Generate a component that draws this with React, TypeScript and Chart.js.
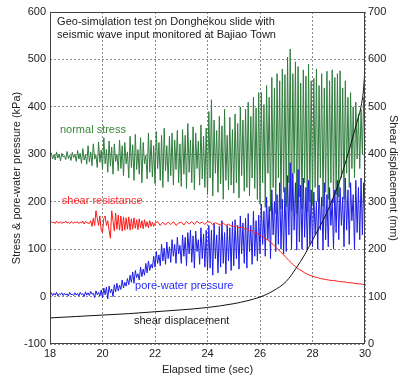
import React, { useEffect, useRef } from "react";
import { Chart, registerables } from "chart.js";

Chart.register(...registerables);

// sampling grid of the dense records (seconds)
const sampleStart = 18;
const sampleStep = 0.05;

// normal stress (kPa), one value per 0.05 s from 18 s to 30 s
const normalStress = [
  296, 303, 290, 299, 288, 305, 292, 300, 286, 302, 294, 297, 289, 306, 291, 298, 287, 304, 293, 299,
  285, 308, 290, 302, 281, 312, 288, 300, 279, 318, 284, 305, 276, 322, 290, 298, 272, 326, 283, 309,
  268, 335, 280, 310, 262, 328, 275, 315, 258, 322, 285, 300, 265, 330, 270, 318, 255, 325, 280, 305,
  250, 338, 272, 320, 245, 342, 268, 310, 258, 335, 240, 325, 280, 298, 248, 345, 262, 330, 252, 318,
  238, 348, 270, 325, 245, 340, 230, 355, 265, 318, 242, 338, 255, 345, 235, 330, 268, 350, 240, 322,
  232, 352, 258, 340, 228, 365, 262, 330, 240, 358, 225, 345, 270, 328, 235, 362, 248, 338, 230, 355,
  215, 390, 250, 415, 212, 372, 260, 350, 220, 380, 238, 360, 205, 395, 245, 340, 225, 378, 235, 352,
  218, 385, 240, 365, 208, 400, 255, 372, 222, 395, 230, 410, 212, 380, 250, 420, 228, 398, 205, 430,
  195, 430, 240, 405, 188, 445, 260, 420, 180, 462, 230, 440, 175, 470, 250, 455, 185, 480, 220, 468,
  190, 505, 240, 522, 180, 470, 260, 495, 175, 485, 210, 450, 185, 478, 240, 465, 178, 490, 200, 455,
  195, 460, 230, 480, 200, 445, 250, 470, 190, 440, 220, 475, 205, 455, 240, 478, 198, 462, 215, 470,
  210, 476, 250, 440, 205, 455, 260, 420, 230, 430, 270, 400, 250, 410, 290, 385, 270, 395, 300, 420,
  330,
];

// pore-water pressure (kPa), same sampling
const poreWaterPressure = [
  5, 8, 2, 7, 3, 9, 1, 6, 4, 8, 2, 7, 3, 6, 1, 9, 4, 5, 2, 8,
  3, 7, 1, 9, 4, 6, 0, 10, 3, 8, 2, 11, 5, 7, -2, 12, 4, 9, 1, 14,
  -3, 18, 4, 20, -5, 22, 8, 16, 0, 25, 10, 28, 12, 24, 15, 35, 18, 30, 22, 38,
  25, 45, 30, 52, 28, 55, 40, 48, 35, 62, 42, 58, 45, 70, 50, 75, 55, 68, 60, 85,
  62, 95, 70, 88, 65, 110, 75, 102, 68, 115, 80, 105, 72, 120, 85, 110, 70, 125, 90, 108,
  70, 130, 85, 125, 65, 135, 90, 140, 72, 128, 60, 138, 95, 120, 68, 145, 80, 132, 62, 140,
  55, 150, 60, 140, 45, 155, 80, 130, 50, 148, 62, 160, 70, 135, 48, 150, 75, 145, 55, 158,
  65, 162, 80, 150, 58, 170, 90, 155, 70, 165, 60, 175, 95, 150, 68, 180, 85, 160, 75, 172,
  90, 195, 110, 180, 85, 210, 120, 190, 80, 225, 130, 200, 95, 215, 110, 240, 100, 205, 90, 230,
  95, 255, 130, 282, 100, 260, 140, 240, 98, 268, 115, 235, 100, 250, 125, 230, 98, 245, 110, 225,
  105, 220, 130, 200, 100, 235, 140, 210, 98, 240, 120, 215, 105, 230, 150, 205, 100, 225, 135, 245,
  120, 230, 150, 210, 105, 250, 140, 225, 110, 240, 160, 215, 100, 245, 135, 230, 120, 250, 130, 240,
  140,
];

// shear resistance (kPa): 0.05 s steps from 18 s to 22 s ...
const shearResistanceFine = [
  156, 158, 155, 157, 154, 159, 156, 155, 158, 154, 157, 156, 159, 155, 157, 154, 158, 156, 155, 157,
  156, 158, 154, 157, 155, 159, 153, 158, 156, 155, 154, 160, 148, 165, 150, 181, 165, 150, 170, 140,
  135, 165, 170, 150, 160, 140, 123, 181, 160, 138, 176, 142, 172, 140, 170, 138, 168, 140, 166, 142,
  168, 140, 164, 142, 166, 144, 162, 141, 164, 145, 160, 143, 162, 147, 158, 145, 160, 148, 157, 148,
  155,
];
// ... then 0.1 s steps from 22.1 s to 30 s
const coarseStart = 22.1;
const coarseStep = 0.1;
const shearResistanceCoarse = [
  158, 150, 157, 151, 157, 152, 158, 150, 155, 157,
  151, 158, 153, 158, 152, 159, 154, 157, 152, 158,
  157, 152, 156, 153, 151, 155, 150, 153, 149, 148,
  149, 145, 147, 143, 143, 139, 139, 134, 133, 129,
  126, 122, 119, 114, 110, 104, 99, 93, 88, 82,
  76, 71, 65, 61, 57, 54, 50, 47, 45, 43,
  41, 40, 38, 37, 36, 35, 34, 34, 33, 32,
  31, 31, 30, 29, 29, 28, 27, 27, 26, 25,
];

// shear displacement (mm, right axis)
const dispTimes = [18, 19, 20, 21, 22, 23, 24, 25, 25.5, 26, 26.5, 27, 27.4, 27.7, 28, 28.3, 28.54, 28.8, 29, 29.17, 29.4, 29.68, 29.87, 29.95, 30];
const shearDisplacement = [55, 58, 61, 64, 68, 72, 77, 85, 91, 99, 112, 132, 162, 188, 219, 250, 276, 310, 338, 367, 410, 465, 507, 540, 585];

const leftTicks = { min: -100, max: 600, step: 100 };
const rightTicks = { min: 0, max: 700, step: 100 };
const timeTicks = { min: 18, max: 30, step: 2 };

const FONT = "'Liberation Sans', Arial, sans-serif";

const labels = [
  { text: "Geo-simulation test on Donghekou slide with", t: 18.27, v: 580, color: "#1a1a1a" },
  { text: "seismic wave input monitored at Bajiao Town", t: 18.27, v: 551, color: "#1a1a1a" },
  { text: "normal stress", t: 18.38, v: 351, color: "#3a8a3a" },
  { text: "shear resistance", t: 18.45, v: 201, color: "#ff2a2a" },
  { text: "pore-water pressure", t: 21.24, v: 23, color: "#2a2aff" },
  { text: "shear displacement", t: 21.2, v: -51, color: "#1a1a1a" },
];

function dense(values: number[], start: number, step: number) {
  return values.map((v, i) => ({ x: +(start + i * step).toFixed(3), y: v }));
}

const textPlugin = {
  id: "textAndBox",
  afterDatasetsDraw(chart: any) {
    const { ctx, chartArea, scales } = chart;
    ctx.save();
    ctx.strokeStyle = "#404040";
    ctx.lineWidth = 1;
    ctx.setLineDash([]);
    ctx.strokeRect(Math.round(chartArea.left) + 0.5, Math.round(chartArea.top) + 0.5, Math.round(chartArea.right - chartArea.left) - 1, Math.round(chartArea.bottom - chartArea.top) - 1);
    ctx.font = `11px ${FONT}`;
    ctx.textAlign = "left";
    ctx.textBaseline = "middle";
    for (const l of labels) {
      ctx.fillStyle = l.color;
      ctx.fillText(l.text, scales.x.getPixelForValue(l.t), scales.y.getPixelForValue(l.v));
    }
    ctx.restore();
  },
};

export default function App() {
  const ref = useRef<HTMLCanvasElement>(null);
  useEffect(() => {
    const canvas = ref.current!;
    const tickFont = { family: FONT, size: 11 };
    const gridOpts = { color: "#8a8a8a", drawTicks: false, borderDash: [2, 2] };
    const chart = new Chart(canvas, {
      type: "line",
      data: {
        datasets: [
          {
            label: "normal stress",
            data: dense(normalStress, sampleStart, sampleStep),
            borderColor: "#2f7d3d",
            borderWidth: 1,
            pointRadius: 0,
            tension: 0,
            yAxisID: "y",
            order: 4,
          },
          {
            label: "pore-water pressure",
            data: dense(poreWaterPressure, sampleStart, sampleStep),
            borderColor: "#1c1ce6",
            borderWidth: 1,
            pointRadius: 0,
            tension: 0,
            yAxisID: "y",
            order: 3,
          },
          {
            label: "shear resistance",
            data: [...dense(shearResistanceFine, sampleStart, sampleStep), ...dense(shearResistanceCoarse, coarseStart, coarseStep)],
            borderColor: "#ff1a1a",
            borderWidth: 1,
            pointRadius: 0,
            tension: 0,
            yAxisID: "y",
            order: 2,
          },
          {
            label: "shear displacement",
            data: dispTimes.map((t, i) => ({ x: t, y: shearDisplacement[i] })),
            borderColor: "#111111",
            borderWidth: 1,
            pointRadius: 0,
            cubicInterpolationMode: "monotone",
            yAxisID: "y2",
            order: 1,
          },
        ],
      },
      options: {
        responsive: false,
        animation: false,
        devicePixelRatio: 1,
        layout: { padding: { top: 12, left: 0, right: 0, bottom: 0 } },
        plugins: { legend: { display: false }, tooltip: { enabled: false } },
        scales: {
          x: {
            type: "linear",
            min: timeTicks.min,
            max: timeTicks.max,
            ticks: { stepSize: timeTicks.step, font: tickFont, color: "#222", padding: 3, maxRotation: 0 },
            grid: gridOpts,
            border: { display: false, dash: [2, 2] },
            title: { display: true, text: "Elapsed time (sec)", font: tickFont, color: "#222", padding: { top: 0, bottom: 3 } },
            afterFit: (s: any) => { s.height = 36; },
          },
          y: {
            type: "linear",
            position: "left",
            min: leftTicks.min,
            max: leftTicks.max,
            ticks: { stepSize: leftTicks.step, font: tickFont, color: "#222", padding: 4 },
            grid: gridOpts,
            border: { display: false, dash: [2, 2] },
            title: { display: true, text: "Stress & pore-water pressure (kPa)", font: tickFont, color: "#222", padding: { top: 10, bottom: 0 } },
            afterFit: (s: any) => { s.width = 50; },
          },
          y2: {
            type: "linear",
            position: "right",
            min: rightTicks.min,
            max: rightTicks.max,
            ticks: { stepSize: rightTicks.step, font: tickFont, color: "#222", padding: 3 },
            grid: { drawOnChartArea: false, drawTicks: false },
            border: { display: false },
            title: { display: true, text: "Shear displacement (mm)", font: tickFont, color: "#222", padding: { top: 1, bottom: 0 } },
            afterFit: (s: any) => { s.width = 36; },
          },
        },
      },
      plugins: [textPlugin],
    } as any);
    return () => chart.destroy();
  }, []);
  return (
    <div style={{ position: "fixed", left: 0, top: 0, width: 401, height: 380, background: "#fff" }}>
      <canvas ref={ref} width={401} height={380} style={{ display: "block" }} />
    </div>
  );
}
